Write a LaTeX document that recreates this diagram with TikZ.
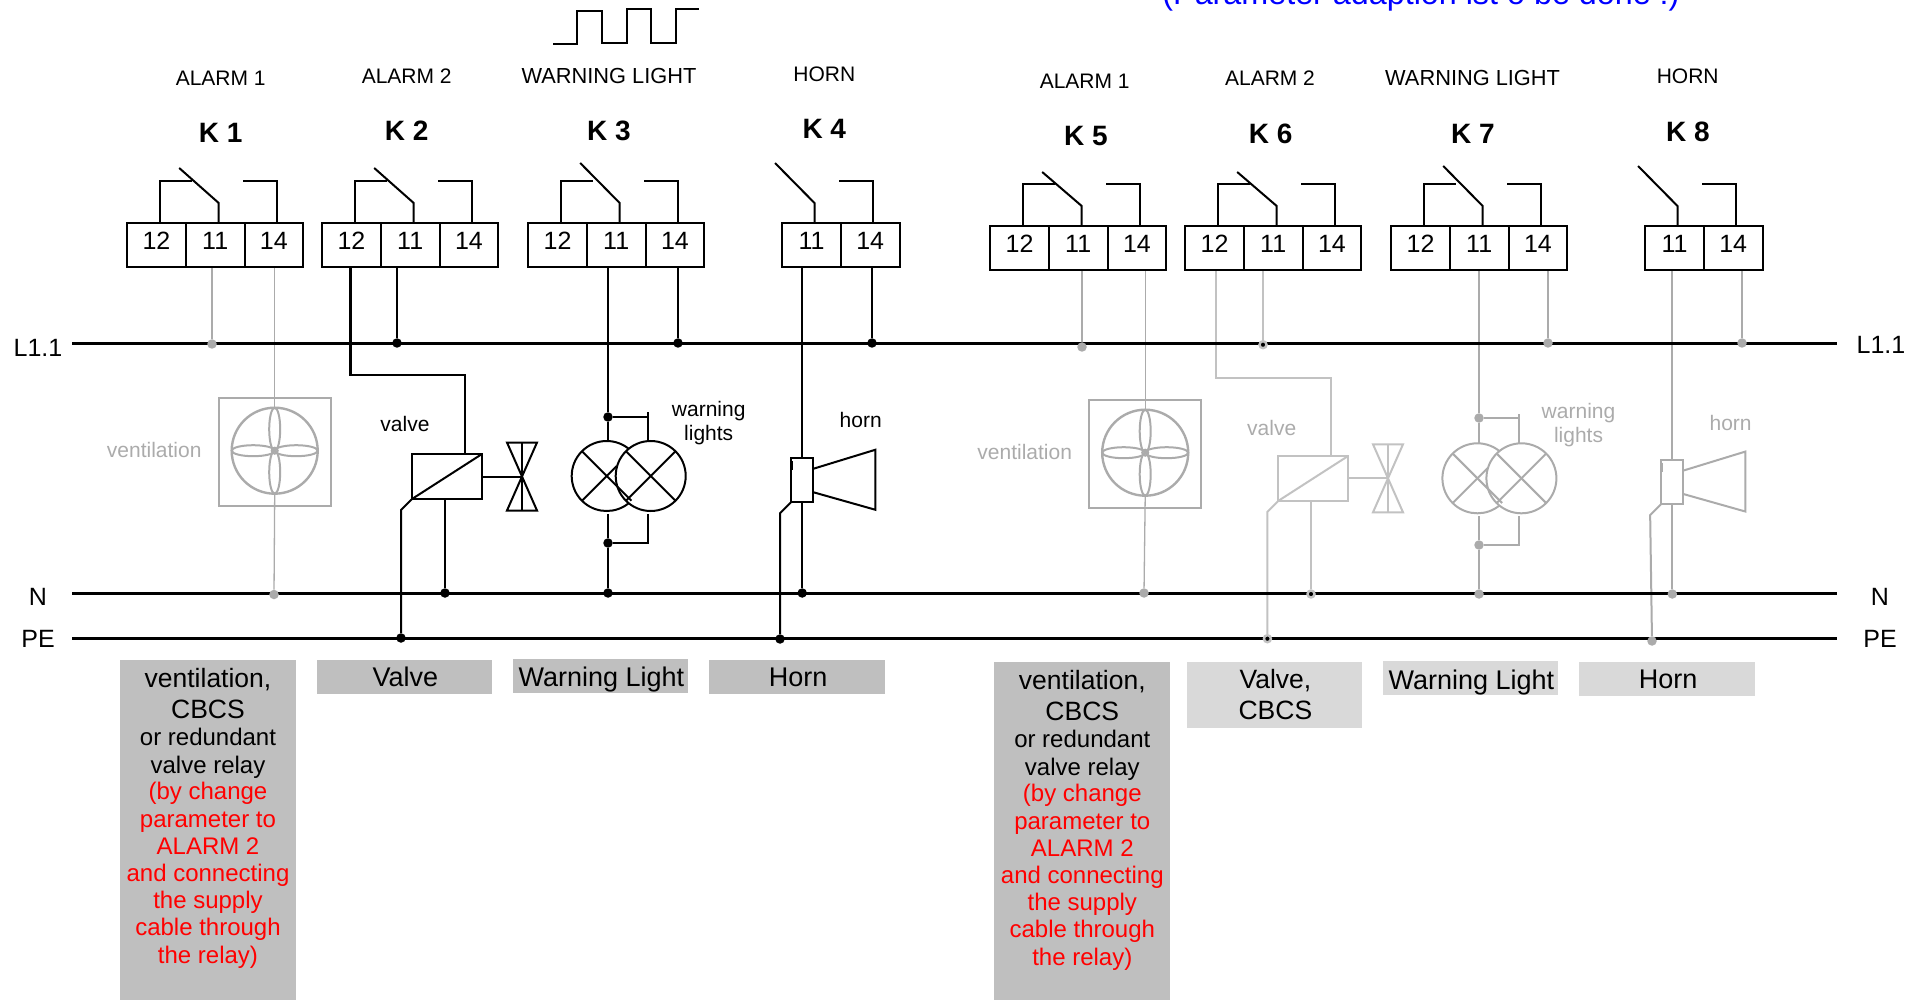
\documentclass[tikz,border=0pt]{standalone}
\usepackage{fontspec}
\setmainfont{Liberation Sans}
\usetikzlibrary{backgrounds}
\usetikzlibrary{positioning}
\definecolor{fadegray}{HTML}{ABABAB}
\definecolor{palegray}{HTML}{C2C2C2}
\definecolor{boxdark}{HTML}{BFBFBF}
\definecolor{boxlight}{HTML}{D9D9D9}
\definecolor{paramblue}{HTML}{0000FF}
\tikzset{
    bus/.style = {line width=3pt},
    wire/.style = {line width=2pt},
    wirebold/.style = {line width=2.6pt},
    fadewire/.style = {line width=2pt,draw=fadegray},
    fadebold/.style = {line width=2.6pt,draw=fadegray},
    fadethin/.style = {line width=1.3pt,draw=fadegray},
    palewire/.style = {line width=2pt,draw=palegray},
    palebold/.style = {line width=2.6pt,draw=palegray},
    term/.style = {draw,line width=2pt,minimum width=58.7pt,minimum height=44pt,inner sep=0pt,outer sep=0pt,
        text height=18pt,text depth=9pt,font=\fontsize{25}{28}\selectfont},
    dot/.style = {circle,fill=black,minimum size=9.5pt,inner sep=0pt},
    fadedot/.style = {circle,fill=fadegray,minimum size=9.5pt,inner sep=0pt},
    ringdot/.style = {circle,fill=black,draw=palegray,line width=2.4pt,minimum size=7pt,inner sep=0pt},
    lbl/.style = {anchor=base,inner sep=0pt,font=\fontsize{21}{24}\selectfont},
    fadelbl/.style = {lbl,text=fadegray},
    railname/.style = {anchor=base,inner sep=0pt,font=\fontsize{25}{28}\selectfont},
    kname/.style = {anchor=base,inner sep=0pt,font=\fontsize{28}{32}\selectfont\bfseries},
    bigtxt/.style = {anchor=base,inner sep=0pt,align=center,font=\fontsize{26.5}{31}\selectfont},
    onetxt/.style = {anchor=base,inner sep=0pt,font=\fontsize{27}{31}\selectfont},
    smalltxt/.style = {anchor=base,inner sep=0pt,align=center,font=\fontsize{24}{27.2}\selectfont},
    dkbox/.style = {fill=boxdark,anchor=north west,minimum width=175.7pt,inner sep=0pt,outer sep=0pt},
    ltbox/.style = {fill=boxlight,anchor=north west,minimum width=175.7pt,inner sep=0pt,outer sep=0pt},
    lamp/.style = {circle,minimum size=70pt,inner sep=0pt,outer sep=0pt}
}

\begin{document}
\begin{tikzpicture}[x=1pt,y=-1pt]
    \useasboundingbox (0,0) rectangle (1928,1000);
    % Rails
    \coordinate (lA) at (72,343.5);
    \coordinate (lB) at (1836.5,343.5);
    \coordinate (nA) at (72,593.5);
    \coordinate (nB) at (1836.5,593.5);
    \coordinate (pA) at (72,638);
    \coordinate (pB) at (1836.5,638);
    \node[railname] (lL) at (38,356) {L1.1};
    \node[railname] (nL) at (38,605) {N};
    \node[railname] (pL) at (38,647) {PE};
    \node[railname] (lR) at (1881,353) {L1.1};
    \node[railname] (nR) at (1880,605.5) {N};
    \node[railname] (pR) at (1880,647) {PE};
    % Note
    \node[anchor=base,inner sep=0pt,text=paramblue,font=\fontsize{32.3}{36}\selectfont] (note) at (1421,5)
        {(Parameter adaption ist o be done !)};
    % Headings
    \foreach \k/\head/\x/\y/\xk/\yk in {
        1/ALARM 1/220.7/86/220.7/142.7,
        2/ALARM 2/406.7/83.3/406.7/141,
        3/{\fontsize{21.8}{24}\selectfont WARNING LIGHT}/609/83.3/609/141,
        4/HORN/824.3/81.7/824.3/138.7,
        5/ALARM 1/1084.7/88.3/1086/145.3,
        6/ALARM 2/1270/86/1270.7/144,
        7/{\fontsize{21.8}{24}\selectfont WARNING LIGHT}/1472.6/86/1473/143.3,
        8/HORN/1687.7/84/1688/141.7}
    {
        \node[lbl] (head\k) at (\x,\y) {\head};
        \node[kname] (kn\k) at (\xk,\yk) {K \k};
    }
    % Blink signal
    \draw[wire] (553,44) -| (577,10.7) -| (602,42.7) -| (627,9) -| (651,43) -| (676,9) -- (699,9);
    % Relays with 12, 11, 14
    \foreach \k/\x/\y/\a in {1/127/223/55,2/322/223/55,3/528/223/60,5/990/226/54,6/1185/226/54,7/1391/226/60}
    {
        \node[term] (a\k) at (\x+29.5,\y+22) {12};
        \node[term,right=0pt of a\k] (b\k) {11};
        \node[term,right=0pt of b\k] (c\k) {14};
        \draw[wire] ([xshift=3.5pt]a\k.north) -- ++(0,-42) -- ++(32,0);
        \draw[wire] ([xshift=3.5pt]b\k.north) -- ++(0,-20) -- ++(-39.5,{20-\a});
        \draw[wire] ([xshift=3pt]c\k.north) -- ++(0,-42) -- ++(-34,0);
    }
    % Relays with 11, 14
    \foreach \k/\x/\y/\a in {4/782/223/60,8/1645/226/60}
    {
        \node[term] (b\k) at (\x+29.5,\y+22) {11};
        \node[term,right=0pt of b\k] (c\k) {14};
        \draw[wire] ([xshift=3pt]b\k.north) -- ++(0,-20) -- ++(-39.5,{20-\a});
        \draw[wire] ([xshift=3pt]c\k.north) -- ++(0,-42) -- ++(-34,0);
    }
    % Junctions
    \foreach \n/\x/\y in {dL2/397/343,dL3/678/343,dL4/872/343,dN2/445/593,dN3/608/593,dN4/802.2/593,
        dP2/401/638,dP4/780/639,dT3/608/417,dB3/608/543}
        \node[dot] (\n) at (\x,\y) {};
    \foreach \n/\x/\y in {dL1/212/344,dN1/274/594.5,dL5/1082/347,dN5/1144/593,dL7/1548/343,dL8/1742/343,
        dN7/1479/594,dN8/1672.3/594,dT7/1479/418,dB7/1479/545,dP8/1652/641}
        \node[fadedot] (\n) at (\x,\y) {};
    \foreach \n/\x/\y in {dL6/1263/344.7,dN6/1311/594,dP6/1267.4/638.7}
        \node[ringdot] (\n) at (\x,\y) {};
    % Fans
    \foreach \n/\x/\y/\cy in {1/274.7/452/450.7,5/1145.2/454/452.7}
    {
        \node[draw=fadegray,line width=2.4pt,minimum width=112pt,minimum height=108pt,inner sep=0pt] (fan\n) at (\x,\y) {};
        \node[circle,draw=fadegray,line width=2.4pt,minimum size=86pt,inner sep=0pt] (fc\n) at (\x,\cy) {};
        \draw[fadewire] (fc\n.center) circle[radius=3pt];
        \draw[fadewire] (fc\n.center) ++(21.5,0) circle[x radius=21.5pt,y radius=5.5pt];
        \draw[fadewire] (fc\n.center) ++(-21.5,0) circle[x radius=21.5pt,y radius=5.5pt];
        \draw[fadewire] (fc\n.center) ++(0,21.5) circle[x radius=5.5pt,y radius=21.5pt];
        \draw[fadewire] (fc\n.center) ++(0,-21.5) circle[x radius=5.5pt,y radius=21.5pt];
        \node[fadelbl] at (\x-120.5,\y+5.3) (vent\n) {ventilation};
    }
    % Valves
    \foreach \n/\k/\cx/\cy/\vx/\st/\sb in {2/2/447/476.5/522/wire/wirebold,6/6/1313.4/478.3/1388/palewire/palebold}
    {
        \node[draw,\st,minimum width=70pt,minimum height=45pt,inner sep=0pt,outer sep=0pt] (coil\n) at (\cx,\cy) {};
        \draw[\st] (coil\n.south west) -- (coil\n.north east);
        \coordinate (vlv\n) at (\vx,\cy);
        \draw[\st] (coil\n.east) -- (vlv\n);
        \draw[\st] (vlv\n) ++(-15,-34) -- ++(30,0) -- ++(-30,68) -- ++(30,0) -- cycle;
        \draw[\st] (vlv\n) ++(0,-34) -- ++(0,68);
    }
    \node[lbl] (vlbl2) at (405,431.7) {valve};
    \node[fadelbl,text=fadegray] (vlbl6) at (1271.7,435) {valve};
    % Warning lights
    \foreach \n/\x/\y/\st in {3/606.7/476/wire,7/1477.4/478.3/fadewire}
    {
        \node[lamp] (lpa\n) at (\x,\y) {};
        \node[lamp,draw,\st] (lpb\n) at (\x+44,\y) {};
        \draw[\st] (lpa\n.51) arc[start angle=51,end angle=309,radius=35pt];
        \draw[\st] (lpa\n.135) -- (lpa\n.315);
        \draw[\st] (lpa\n.225) -- ([xshift=10pt,yshift=10pt]lpa\n.center);
        \draw[\st] (lpb\n.135) -- (lpb\n.315);
        \draw[\st] (lpb\n.225) -- (lpb\n.45);
    }
    \node[lbl,align=center,anchor=base] (wl3) at (708.7,440.7) {warning\\lights};
    \node[fadelbl,align=center,anchor=base] (wl7) at (1578.5,442.7) {warning\\lights};
    % Horns
    \foreach \n/\x/\y/\st in {4/802.2/480/wire,8/1672.3/481.8/fadewire}
    {
        \node[draw,\st,minimum width=22.3pt,minimum height=44.5pt,inner sep=0pt,outer sep=0pt] (hrn\n) at (\x,\y) {};
        \draw[\st] ([yshift=-11pt]hrn\n.north east) -- ++(62,-19) -- ++(0,60) -- ([yshift=10pt]hrn\n.south east);
        \draw[\st,line width=3pt] ([yshift=-3pt]hrn\n.north west) -- ++(0,9);
    }
    \node[lbl] (hl4) at (860.7,427.7) {horn};
    \node[fadelbl] (hl8) at (1730.6,430) {horn};
    % Connections, rails on top of them
    \begin{scope}[on background layer]
        \foreach \src/\dest/\st in {b1/dL1/fadebold,b2/dL2/wirebold,c3/dL3/wirebold,c4/dL4/wirebold,
            b5/dL5/fadebold,b6/dL6/palebold,c7/dL7/fadebold,c8/dL8/fadebold}
            \draw[\st] (\dest |- \src.south) -- (\dest);
        % Fans
        \foreach \src/\dest/\n in {c1/dN1/1,c5/dN5/5}
        {
            \draw[fadethin] (fan\n.north |- \src.south) -- (fc\n.north);
            \draw[fadethin] (fc\n.south) -- (\dest);
        }
        % Valves
        \draw[wirebold] ([xshift=-1pt]a2.south) -- ++(0,108) -| ([xshift=18pt]coil2.north);
        \draw[palebold] ([xshift=1.5pt]a6.south) -- ++(0,108) -| ([xshift=17.6pt]coil6.north);
        \draw[wirebold] (dN2 |- coil2.south) -- (dN2);
        \draw[palebold] (dN6 |- coil6.south) -- (dN6);
        \draw[wire] (coil2.south west) -- ++(-11,11) -- (dP2);
        \draw[palewire] (coil6.south west) -- ++(-11,11) -- (dP6);
        % Warning lights
        \foreach \n/\st in {3/wire,7/fadewire}
        {
            \draw[\st] (dT\n |- b\n.south) -- (dT\n);
            \draw[\st] (dT\n) -- (dT\n |- lpa\n.north);
            \draw[\st] ([xshift=-2.3pt]lpb\n.north) coordinate (tp\n) -- ++(0,-29);
            \draw[\st] (dT\n) -- (dT\n -| tp\n);
            \draw[\st] ([xshift=-2.3pt,yshift=-3pt]lpb\n.south) |- (dB\n);
            \draw[\st] (dB\n) -- ([yshift=-3pt]dB\n |- lpa\n.south);
            \draw[\st] (dB\n) -- (dN\n);
        }
        % Horns
        \foreach \n/\st in {4/wire,8/fadewire}
        {
            \draw[\st] (hrn\n.north |- b\n.south) -- (hrn\n.north);
            \draw[\st] (hrn\n.south) -- (dN\n);
            \draw[\st] (hrn\n.south west) -- ++(-11,11) -- (dP\n);
        }
        % Rails
        \foreach \src/\dest in {lA/lB,nA/nB,pA/pB}
            \draw[bus] (\src) -- (\dest);
    \end{scope}
    % Function boxes
    \node[dkbox,minimum height=340pt] (box1) at (119.8,660) {};
    \node[dkbox,minimum height=34pt] (box2) at (316.7,660) {};
    \node[dkbox,minimum height=34pt] (box3) at (512.5,659) {};
    \node[dkbox,minimum height=34pt] (box4) at (708.9,660) {};
    \node[dkbox,minimum height=338pt] (box5) at (994,662) {};
    \node[ltbox,minimum height=66pt] (box6) at (1186.7,662) {};
    \node[ltbox,minimum height=34pt] (box7) at (1382.5,661) {};
    \node[ltbox,minimum height=34pt] (box8) at (1579,662) {};
    \foreach \n/\x/\dy in {1/208/0,5/1082.3/2}
    {
        \node[bigtxt] (txa\n) at (\x,718+\dy) {ventilation,\\CBCS};
        \node[smalltxt] (txb\n) at (\x,773+\dy) {or redundant\\valve relay};
        \node[smalltxt,text=red] (txc\n) at (\x,963+\dy)
            {(by change\\parameter to\\ALARM 2\\and connecting\\the supply\\cable through\\the relay)};
    }
    \foreach \n/\x/\y/\txt in {2/405.4/686.5/Valve,3/601.3/686.5/Warning Light,4/798.1/686.5/Horn,
        7/1471.3/689/Warning Light,8/1668/688.5/Horn}
        \node[onetxt] (tx\n) at (\x,\y) {\txt};
    \node[bigtxt] (tx6) at (1275.4,719.5) {Valve,\\CBCS};
\end{tikzpicture}
\end{document}
